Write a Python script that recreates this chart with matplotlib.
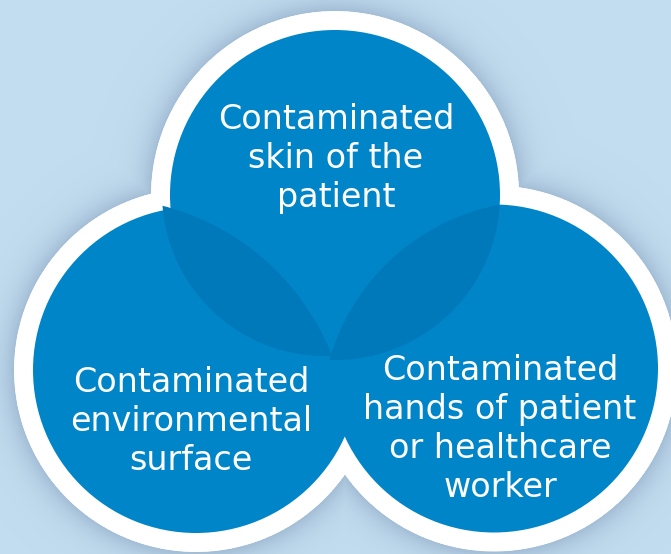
import numpy as np
import matplotlib
matplotlib.use("Agg")
import matplotlib.pyplot as plt
from matplotlib.patches import Circle

# labels of the three circles (top, left, right)
LABELS = [
    ["Contaminated", "skin of the", "patient"],
    ["Contaminated", "environmental", "surface"],
    ["Contaminated", "hands of patient", "or healthcare", "worker"],
]

# geometry in pixel units (y grows downward)
CIRCLES = [(335, 195, 165), (196, 370, 163), (494, 368.5, 164)]
LABEL_X = [336, 191, 500]
LABEL_Y0 = [129, 392, 380]        # baseline of first line
LINE_STEP = 39
BORDER = 19
LEAF_L = [(101, 446, 248), (325, 193, 163)]
LEAF_R = [(540, 420, 219), (335, 195, 165)]

BG = "#c3ddf0"; BLUE = "#0085c9"; LEAF = "#0079ba"; WHITE = "white"
W, H = 671, 554

fig = plt.figure(figsize=(W / 100, H / 100), dpi=100)
ax = fig.add_axes([0, 0, 1, 1])
ax.set_xlim(0, W); ax.set_ylim(H, 0); ax.axis("off")
fig.patch.set_facecolor(BG)

# soft shadow around the white outline
yy, xx = np.mgrid[0:H, 0:W] + 0.5
dist = np.min([np.hypot(xx - cx, yy - cy) - (r + BORDER) for cx, cy, r in CIRCLES], axis=0)
alpha = np.where(dist > 0, 0.38 * np.exp(-dist / 14.0), 0)
shadow = np.zeros((H, W, 4))
shadow[..., 0] = 0.42; shadow[..., 1] = 0.53; shadow[..., 2] = 0.66
shadow[..., 3] = alpha
ax.imshow(shadow, extent=(0, W, H, 0), zorder=0, interpolation="bilinear")

for cx, cy, r in CIRCLES:
    ax.add_patch(Circle((cx, cy), r + BORDER, fc=WHITE, ec="none", zorder=1))
for cx, cy, r in CIRCLES:
    ax.add_patch(Circle((cx, cy), r, fc=BLUE, ec="none", zorder=2))

# darker leaves where the top circle overlaps the bottom ones
for (a, b) in (LEAF_L, LEAF_R):
    clip = Circle(b[:2], b[2], transform=ax.transData)
    leaf = Circle(a[:2], a[2], fc=LEAF, ec="none", zorder=3)
    ax.add_patch(leaf)
    leaf.set_clip_path(clip)

for lines, x, y0 in zip(LABELS, LABEL_X, LABEL_Y0):
    for i, s in enumerate(lines):
        ax.text(x, y0 + i * LINE_STEP, s, color="white", fontsize=24,
                family=["DejaVu Sans"], ha="center", va="baseline", zorder=5)

fig.savefig("out.png", dpi=100, facecolor=BG)
